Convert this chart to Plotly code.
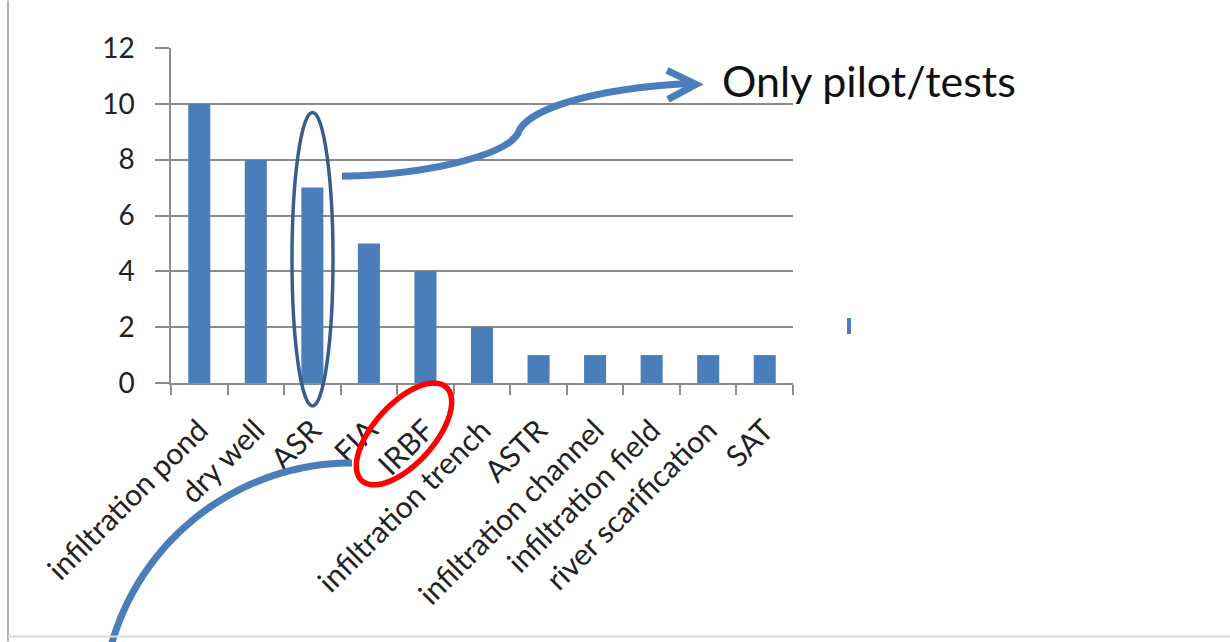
import numpy as np
import plotly.graph_objects as go

categories = ["infiltration pond", "dry well", "ASR", "FIA", "IRBF",
              "infiltration trench", "ASTR", "infiltration channel",
              "infiltration field", "river scarification", "SAT"]
counts = [10, 8, 7, 5, 4, 2, 1, 1, 1, 1, 1]
y_ticks = [0, 2, 4, 6, 8, 10, 12]

W, H = 1230, 642
PL, PR, PT, PB = 171, 793, 47.5, 383
BLUE = "#4A7EBB"
GRID = "#8c8c8c"


def px(x):
    return (x - PL) / (PR - PL)


def py(y):
    return (PB - y) / (PB - PT)


def pts_path(points, close=False):
    s = "M " + " L ".join(f"{px(x):.5f},{py(y):.5f}" for x, y in points)
    return s + (" Z" if close else "")


def bez_path(segs):
    (x0, y0) = segs[0]
    s = f"M {px(x0):.5f},{py(y0):.5f}"
    for c1, c2, p in segs[1:]:
        s += (f" C {px(c1[0]):.5f},{py(c1[1]):.5f} {px(c2[0]):.5f},{py(c2[1]):.5f}"
              f" {px(p[0]):.5f},{py(p[1]):.5f}")
    return s


fig = go.Figure(go.Bar(x=categories, y=counts, marker_color=BLUE,
                       marker_line_width=0))

shapes = []
# ellipse around ASR bar
shapes.append(dict(type="circle", xref="paper", yref="paper",
                   x0=px(292), x1=px(333), y0=py(406), y1=py(112),
                   line=dict(color="#385D8A", width=3.5)))
# curved arrow to text
shapes.append(dict(type="path", xref="paper", yref="paper",
                   path=bez_path([(342, 176),
                                  ((430, 174), (505, 155), (518, 133)),
                                  ((525, 110), (590, 88), (690, 83))]),
                   line=dict(color=BLUE, width=7)))
shapes.append(dict(type="path", xref="paper", yref="paper",
                   path=pts_path([(667, 70), (696, 84), (668, 99)]),
                   line=dict(color=BLUE, width=7)))
# red tilted ellipse around IRBF label
t = np.linspace(0, 2 * np.pi, 73)
cx, cy, a, b, th = 404, 434, 63, 30, np.deg2rad(48)
ex = cx + a * np.cos(t) * np.cos(th) - b * np.sin(t) * np.sin(th)
ey = cy - (a * np.cos(t) * np.sin(th) + b * np.sin(t) * np.cos(th))
shapes.append(dict(type="path", xref="paper", yref="paper",
                   path=pts_path(list(zip(ex, ey)), close=True),
                   line=dict(color="#FF0000", width=5.5)))
# arc from IRBF down-left
ang = np.linspace(np.pi / 2, np.pi - 0.27, 50)
ax_ = 352 + 250 * np.cos(ang)
ay_ = 713 - 250 * np.sin(ang)
shapes.append(dict(type="path", xref="paper", yref="paper",
                   path=pts_path(list(zip(ax_, ay_))),
                   line=dict(color=BLUE, width=7)))
# page frame lines
shapes.append(dict(type="line", xref="paper", yref="paper",
                   x0=px(8), x1=px(8), y0=py(0), y1=py(642),
                   line=dict(color="#b0b0b0", width=2)))
shapes.append(dict(type="line", xref="paper", yref="paper",
                   x0=px(8), x1=px(1230), y0=py(637), y1=py(637),
                   line=dict(color="#dcdcdc", width=2)))
# cut-off legend fragment
shapes.append(dict(type="rect", xref="paper", yref="paper",
                   x0=px(847), x1=px(851), y0=py(334), y1=py(318),
                   line=dict(width=0), fillcolor=BLUE))

fig.update_layout(
    width=W, height=H,
    margin=dict(l=PL, r=W - PR, t=PT, b=H - PB, pad=0),
    paper_bgcolor="white", plot_bgcolor="white",
    showlegend=False, bargap=0.61,
    font=dict(family="Lato", color="#222222"),
    shapes=shapes,
    annotations=[dict(text="Only pilot/tests", xref="paper", yref="paper",
                      x=px(720), y=py(80), xanchor="left", yanchor="middle",
                      showarrow=False,
                      font=dict(family="Lato", size=43, color="#111111"))],
)
fig.update_yaxes(range=[0, 12], tickvals=y_ticks, showgrid=True,
                 gridcolor=GRID, gridwidth=1.5, zeroline=False,
                 showline=True, linecolor=GRID, linewidth=1.5,
                 ticks="outside", ticklen=14, tickcolor=GRID, tickwidth=1.5,
                 ticklabelstandoff=15,
                 tickfont=dict(family="Lato", size=28, color="#222222"))
fig.update_xaxes(type="category", showgrid=False, showline=True,
                 linecolor=GRID, linewidth=1.5, ticks="outside",
                 tickson="boundaries", ticklen=10, tickcolor=GRID,
                 tickwidth=1.5, tickangle=-45, ticklabelstandoff=16,
                 tickfont=dict(family="Lato", size=30, color="#222222"))

fig.write_html("out.html")
